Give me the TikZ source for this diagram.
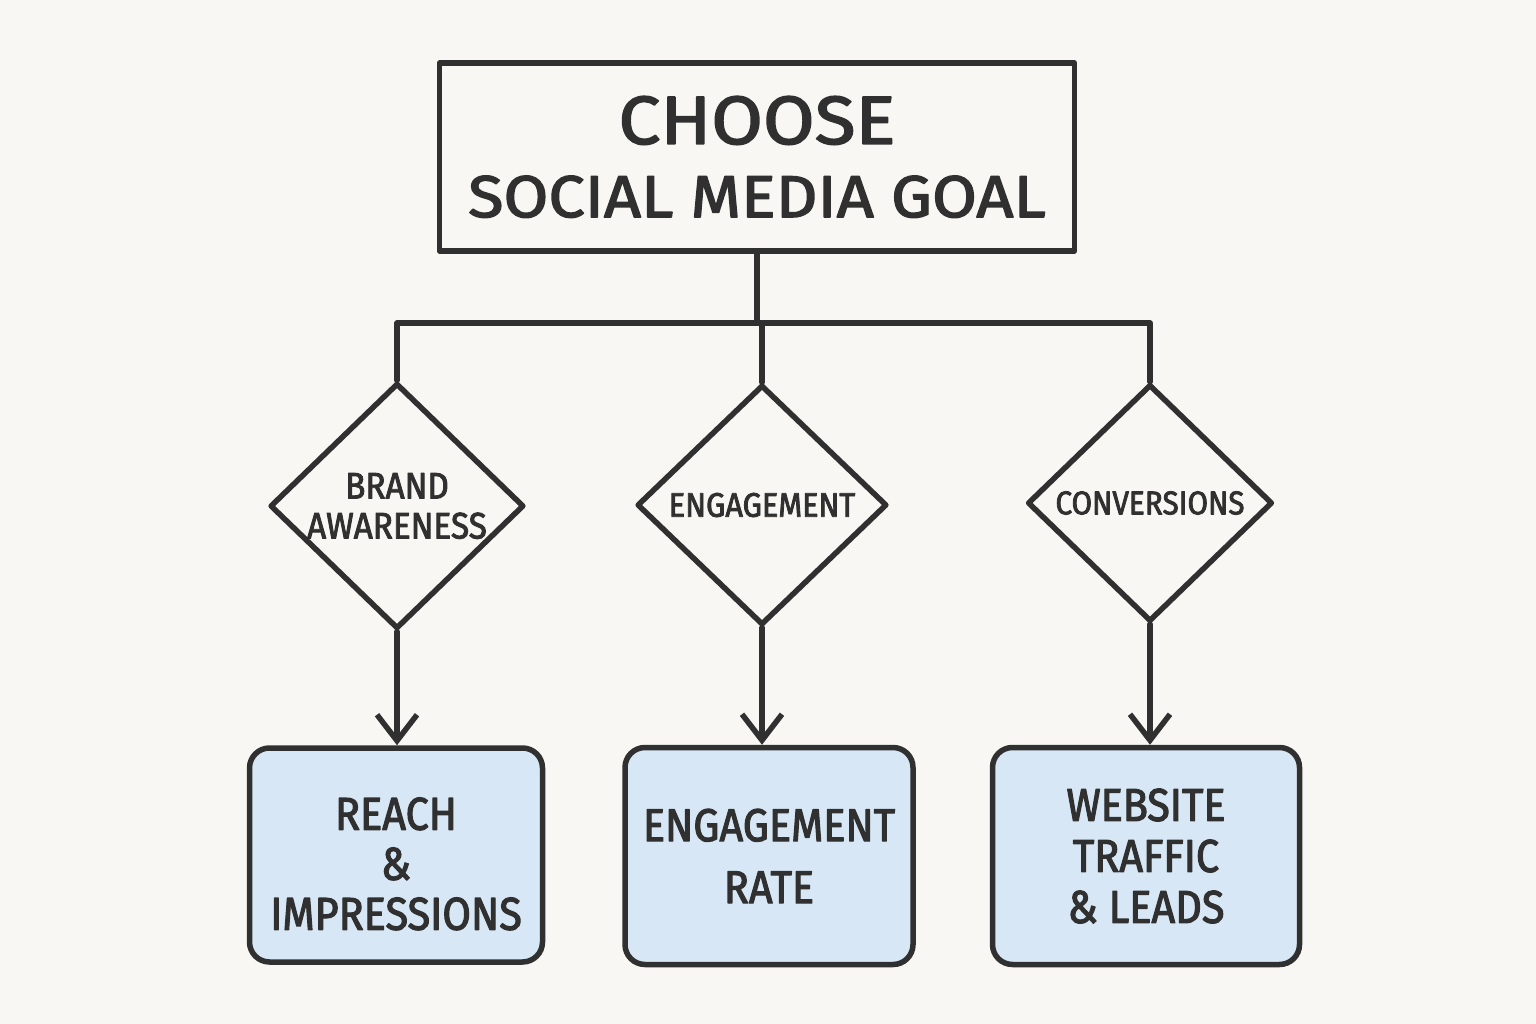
\documentclass[tikz,border=0pt]{standalone}
\usepackage{fontspec}
\setmainfont[FakeStretch=0.9,FakeBold=2.4]{Fira Sans}
\newfontfamily\widefont[FakeStretch=1.1,FakeBold=2.4]{Fira Sans}
\usetikzlibrary{shapes.geometric,arrows.meta}
\definecolor{ink}{HTML}{303030}
\definecolor{paper}{HTML}{F8F7F3}
\definecolor{metricblue}{HTML}{D8E7F5}

\begin{document}
\begin{tikzpicture}[x=1pt, y=-1pt, line join=round, line cap=round,
    flow/.style={draw=ink, line width=5.5pt, text=ink, align=center, inner sep=0pt},
    topbox/.style={flow, rectangle, fill=paper, minimum width=635pt, minimum height=188pt},
    goal/.style={flow, diamond, fill=paper, font=\fontsize{33}{39}\selectfont},
    metric/.style={flow, rectangle, rounded corners=20pt, fill=metricblue},
    link/.style={draw=ink, line width=5.5pt},
    arrow/.style={link, -{Straight Barb[length=26pt, width=40pt]}}]
      %%% background and page size
      \fill[paper] (0,0) rectangle (1536,1024);
      %%% top box
      \node[topbox, font=\widefont] (choose) at (757,157)
           {{\fontsize{68}{68}\selectfont CHOOSE}\\[30pt]{\fontsize{59}{59}\selectfont SOCIAL MEDIA GOAL}};
      \coordinate (bus) at (0,323);
      %%% goal diamonds
      \node[goal, minimum width=254pt, minimum height=243pt, font=\fontsize{37}{40}\selectfont]
           (brand)   at (397,506) {BRAND\\AWARENESS};
      \node[goal, minimum width=250pt, minimum height=240pt, font=\fontsize{34}{39}\selectfont]
           (engage)  at (762,505) {ENGAGEMENT};
      \node[goal, minimum width=245pt, minimum height=237pt] (convert) at (1150,503) {CONVERSIONS};
      %%% metric boxes
      \node[metric, minimum width=293pt, minimum height=214pt, font=\fontsize{46}{50}\selectfont]
           (reach)   at (396,855)  {\rule{0pt}{50pt}REACH\\\&\\IMPRESSIONS};
      \node[metric, minimum width=288pt, minimum height=217pt, font=\fontsize{46}{62}\selectfont]
           (rate)    at (769,856)  {ENGAGEMENT\\RATE};
      \node[metric, minimum width=307pt, minimum height=217pt, font=\fontsize{46}{51}\selectfont]
           (traffic) at (1146,856) {WEBSITE\\TRAFFIC\\\& LEADS};
      %%% tree lines
      \draw[link] (choose.south) -- (choose.south |- bus);
      \draw[link] (brand.north) |- (convert.north |- bus) -- (convert.north);
      \draw[link] (engage.north) -- (engage.north |- bus);
      %%% arrows down to metrics
      \foreach \g/\m in {brand/reach, engage/rate, convert/traffic}{
        \draw[arrow] (\g.south) -- (\g.south |- \m.north);
      }
\end{tikzpicture}
\end{document}
